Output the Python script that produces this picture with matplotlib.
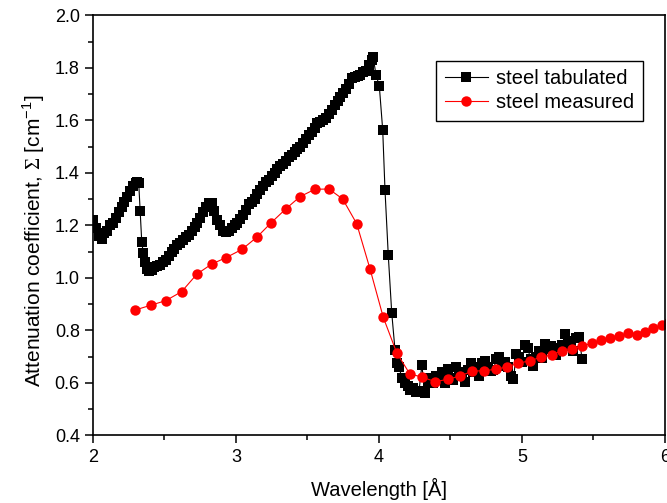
import matplotlib
matplotlib.use("Agg")
import matplotlib.pyplot as plt
from matplotlib.ticker import MultipleLocator

plt.rcParams.update({
    "font.family": ["Liberation Sans", "DejaVu Sans"],
    "mathtext.fontset": "custom",
    "mathtext.rm": "Liberation Serif",
    "mathtext.sf": "Liberation Sans",
})

# tabulated attenuation of steel (dense grid)
tab_wl = [
    2.00, 2.02, 2.04, 2.06, 2.08, 2.10, 2.12, 2.14, 2.16, 2.18,
    2.20, 2.22, 2.24, 2.26, 2.28, 2.30, 2.31, 2.32, 2.33, 2.341,
    2.352, 2.364, 2.376, 2.39, 2.41, 2.43, 2.45, 2.47, 2.49, 2.51,
    2.53, 2.55, 2.57, 2.59, 2.61, 2.63, 2.65, 2.67, 2.69, 2.71,
    2.73, 2.75, 2.77, 2.79, 2.81, 2.83, 2.845, 2.865, 2.89, 2.91,
    2.93, 2.95, 2.97, 2.99, 3.01, 3.03, 3.05, 3.07, 3.09, 3.11,
    3.13, 3.15, 3.17, 3.19, 3.21, 3.23, 3.25, 3.27, 3.29, 3.31,
    3.33, 3.35, 3.37, 3.39, 3.41, 3.43, 3.45, 3.47, 3.49, 3.51,
    3.53, 3.55, 3.57, 3.59, 3.61, 3.63, 3.65, 3.67, 3.69, 3.71,
    3.73, 3.75, 3.77, 3.79, 3.81, 3.83, 3.85, 3.87, 3.89, 3.91,
    3.93, 3.95, 3.96, 3.979, 4.002, 4.026, 4.042, 4.065, 4.089, 4.112,
    4.124, 4.14, 4.16, 4.18, 4.20, 4.22, 4.24, 4.26, 4.28, 4.30,
    4.32, 4.34, 4.36, 4.38, 4.40, 4.42, 4.44, 4.46, 4.48, 4.50,
    4.52, 4.54, 4.56, 4.58, 4.60, 4.62, 4.64, 4.66, 4.68, 4.70,
    4.72, 4.74, 4.76, 4.78, 4.80, 4.82, 4.84, 4.86, 4.88, 4.90,
    4.92, 4.94, 4.96, 4.98, 5.00, 5.02, 5.04, 5.06, 5.08, 5.10,
    5.12, 5.14, 5.16, 5.18, 5.20, 5.22, 5.24, 5.26, 5.28, 5.30,
    5.32, 5.34, 5.36, 5.38, 5.40, 5.42,
]
tab_att = [
    1.22, 1.19, 1.16, 1.15, 1.17, 1.18, 1.20, 1.21, 1.23, 1.25,
    1.27, 1.29, 1.31, 1.33, 1.35, 1.36, 1.365, 1.36, 1.256, 1.138,
    1.094, 1.06, 1.035, 1.025, 1.03, 1.04, 1.045, 1.05, 1.06, 1.07,
    1.085, 1.10, 1.11, 1.125, 1.135, 1.145, 1.155, 1.165, 1.18, 1.195,
    1.21, 1.23, 1.25, 1.27, 1.285, 1.285, 1.255, 1.22, 1.20, 1.18,
    1.175, 1.18, 1.19, 1.20, 1.21, 1.225, 1.24, 1.26, 1.28, 1.29,
    1.30, 1.32, 1.335, 1.35, 1.365, 1.375, 1.39, 1.40, 1.415, 1.425,
    1.435, 1.445, 1.46, 1.47, 1.48, 1.49, 1.50, 1.515, 1.53, 1.545,
    1.555, 1.57, 1.59, 1.595, 1.60, 1.61, 1.625, 1.64, 1.66, 1.675,
    1.69, 1.705, 1.72, 1.74, 1.76, 1.765, 1.77, 1.775, 1.785, 1.79,
    1.81, 1.83, 1.84, 1.773, 1.733, 1.564, 1.335, 1.086, 0.868, 0.726,
    0.677, 0.66, 0.62, 0.60, 0.59, 0.575, 0.58, 0.565, 0.57, 0.67,
    0.56, 0.60, 0.62, 0.60, 0.625, 0.61, 0.64, 0.60, 0.655, 0.62,
    0.61, 0.66, 0.625, 0.64, 0.605, 0.65, 0.675, 0.64, 0.66, 0.625,
    0.675, 0.685, 0.66, 0.645, 0.65, 0.69, 0.70, 0.665, 0.68, 0.66,
    0.625, 0.615, 0.71, 0.70, 0.68, 0.745, 0.735, 0.69, 0.665, 0.70,
    0.72, 0.695, 0.75, 0.73, 0.74, 0.735, 0.705, 0.725, 0.745, 0.785,
    0.76, 0.74, 0.72, 0.77, 0.775, 0.69,
]

# measured attenuation of steel
meas_wl = [
    2.294, 2.403, 2.510, 2.620, 2.727, 2.830, 2.928, 3.042, 3.147, 3.247,
    3.350, 3.448, 3.552, 3.650, 3.746, 3.844, 3.937, 4.030, 4.124, 4.215,
    4.303, 4.394, 4.480, 4.569, 4.652, 4.734, 4.818, 4.897, 4.974, 5.056,
    5.133, 5.208, 5.278, 5.350, 5.420, 5.487, 5.555, 5.618, 5.680, 5.743,
    5.802, 5.860, 5.918, 5.977, 6.03,
]
meas_att = [
    0.878, 0.896, 0.914, 0.948, 1.015, 1.053, 1.077, 1.109, 1.156, 1.211,
    1.264, 1.310, 1.338, 1.339, 1.301, 1.207, 1.035, 0.850, 0.715, 0.635,
    0.622, 0.605, 0.614, 0.627, 0.645, 0.647, 0.652, 0.662, 0.675, 0.685,
    0.698, 0.707, 0.723, 0.728, 0.741, 0.751, 0.764, 0.773, 0.779, 0.789,
    0.782, 0.795, 0.808, 0.821, 0.832,
]

fig = plt.figure(figsize=(6.67, 5.03), dpi=100)
ax = fig.add_axes([0.1394, 0.1342, 0.8576, 0.835])

ax.plot(tab_wl, tab_att, color="black", linewidth=0.8, marker="s",
        markersize=6.5, markeredgewidth=0, label="steel tabulated")
ax.plot(meas_wl, meas_att, color="red", linewidth=0.8, marker="o",
        markersize=7.5, markeredgewidth=0, label="steel measured")

ax.set_xlim(2, 6)
ax.set_ylim(0.4, 2.0)
ax.xaxis.set_major_locator(MultipleLocator(1))
ax.xaxis.set_minor_locator(MultipleLocator(0.5))
ax.yaxis.set_major_locator(MultipleLocator(0.2))
ax.yaxis.set_minor_locator(MultipleLocator(0.1))
ax.yaxis.set_major_formatter(plt.FormatStrFormatter("%.1f"))
ax.tick_params(which="both", direction="out", top=False, right=False,
               labelsize=13, width=1.1)
ax.tick_params(which="major", length=6)
ax.tick_params(which="minor", length=3.5)
for sp in ax.spines.values():
    sp.set_linewidth(1.2)

ax.set_xlabel("Wavelength [Å]", fontsize=14.5, labelpad=9)
ax.set_ylabel(r"Attenuation coefficient, $\Sigma$ [cm$^{\mathsf{-1}}$]",
              fontsize=15)
ax.yaxis.set_label_coords(-0.08, 0.463)

leg = ax.legend(loc="upper left", bbox_to_anchor=(0.600, 0.892),
                borderaxespad=0, fontsize=14.5, fancybox=False,
                edgecolor="black", framealpha=1, handlelength=2.15,
                handletextpad=0.4, borderpad=0.42, labelspacing=0.25)
leg.get_frame().set_linewidth(1.0)

fig.savefig("out.png", dpi=100)
